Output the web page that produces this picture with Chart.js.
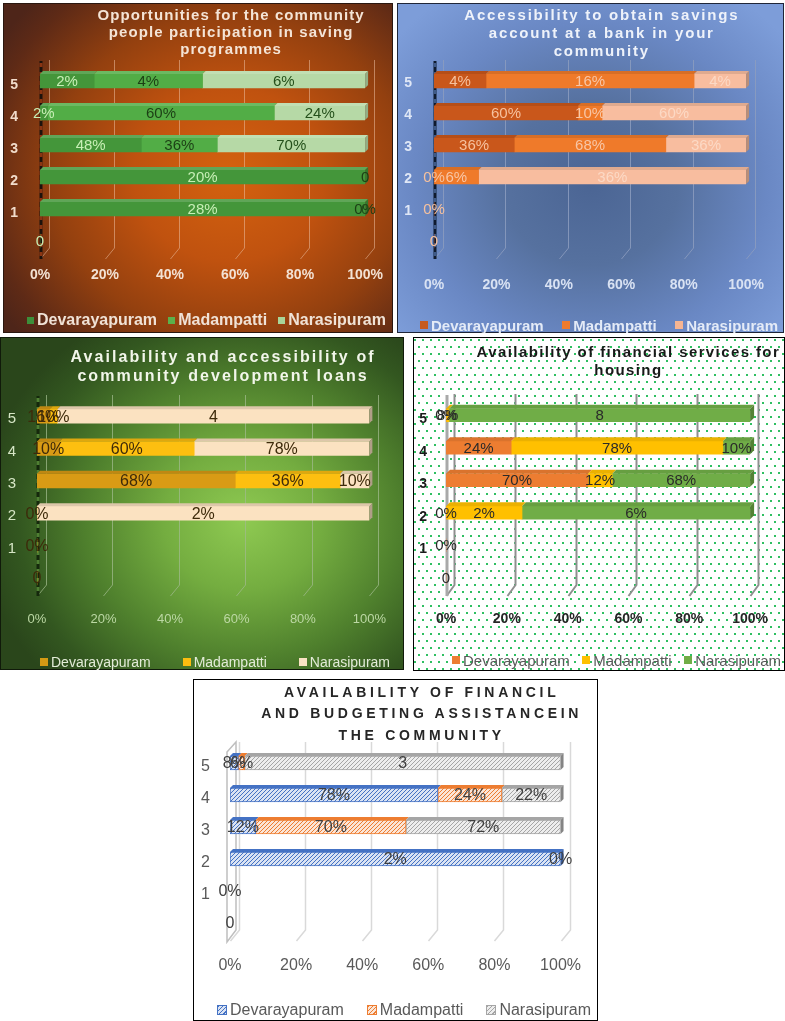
<!DOCTYPE html>
<html>
<head>
<meta charset="utf-8">
<script src="https://cdn.jsdelivr.net/npm/chart.js@4.4.1/dist/chart.umd.min.js"></script>
<style>
  html, body { margin: 0; padding: 0; background: #ffffff; }
  #page { position: relative; width: 785px; height: 1021px; overflow: hidden; font-family: "Liberation Sans", Arial, sans-serif; }
  .panel { position: absolute; overflow: hidden; box-sizing: border-box; }
  .panel canvas { position: absolute; left: 0; top: 0; }
  .tline { position: absolute; text-align: center; white-space: nowrap; font-weight: bold; }
  .legend { position: absolute; display: flex; justify-content: space-between; align-items: center; white-space: nowrap; }
  .legend .item { display: flex; align-items: center; }
  .legend .swatch { display: inline-block; box-sizing: border-box; margin-right: 3px; }
</style>
</head>
<body>
<div id="page"></div>
<script>
// ---- shared axis data ----
const categories = ['', '1', '2', '3', '4', '5'];
const seriesNames = ['Devarayapuram', 'Madampatti', 'Narasipuram'];

// ---- Opportunities for the community people participation in saving programmes ----
const savingTitle = ['Opportunities for the community', 'people participation in saving', 'programmes'];
const savingDev = ['0', '28%', '20%', '48%', '2%', '2%'];
const savingMad = [null, '0%', '0', '36%', '60%', '4%'];
const savingNar = [null, '0', null, '70%', '24%', '6%'];

// ---- Accessibility to obtain savings account ----
const accountTitle = ['Accessibility to obtain savings', 'account at a bank in your', 'community'];
const accountDev = ['0', '0%', '0%', '36%', '60%', '4%'];
const accountMad = [null, null, '6%', '68%', '10%', '16%'];
const accountNar = [null, null, '36%', '36%', '60%', '4%'];

// ---- Community development loans ----
const loansTitle = ['Availability and accessibility of', 'community development loans'];
const loansDev = ['0', '0%', '0%', '68%', '10%', '16%'];
const loansMad = [null, null, null, '36%', '60%', '10%'];
const loansNar = [null, null, '2%', '10%', '78%', '4'];

// ---- Financial services for housing ----
const housingTitle = ['Availability of financial services for', 'housing'];
const housingDev = ['0', '0%', '0%', '70%', '24%', '0%'];
const housingMad = [null, null, '2%', '12%', '78%', '8%'];
const housingNar = [null, null, '6%', '68%', '10%', '8'];

// ---- Financial and budgeting assistance ----
const budgetTitle = ['AVAILABILITY OF FINANCIL', 'AND BUDGETING ASSISTANCEIN', 'THE COMMUNITY'];
const budgetDev = ['0', '0%', '2%', '12%', '78%', '8%'];
const budgetMad = [null, null, '0%', '70%', '24%', '6%'];
const budgetNar = [null, null, null, '72%', '22%', '3'];

// ---- helpers ----
const FONT = '"Liberation Sans", Arial, sans-serif';

function cellValue(cell) {
  if (cell === null) return null;
  const n = parseFloat(cell);
  return cell.endsWith('%') ? n / 100 : n;
}

// 100% stacked: each segment as a share of its row total
function shareOfRow(series) {
  const values = series.map(s => s.map(cellValue));
  const totals = categories.map((_, j) => values.reduce((t, v) => t + (v[j] || 0), 0));
  return values.map(v => v.map((x, j) => x === null ? null : (totals[j] > 0 ? x / totals[j] * 100 : 0)));
}

function shade(hex, f) {
  const n = parseInt(hex.slice(1), 16);
  const c = [n >> 16, (n >> 8) & 255, n & 255];
  const t = f < 0 ? 0 : 255, p = Math.abs(f);
  const m = c.map(v => Math.round(v + (t - v) * p));
  return `rgb(${m[0]},${m[1]},${m[2]})`;
}

function hatch(fg, bg) {
  const tile = document.createElement('canvas');
  tile.width = 4; tile.height = 4;
  const t = tile.getContext('2d');
  t.fillStyle = bg; t.fillRect(0, 0, 4, 4);
  t.strokeStyle = fg; t.lineWidth = 1;
  t.beginPath();
  t.moveTo(0, 4); t.lineTo(4, 0);
  t.moveTo(-1, 1); t.lineTo(1, -1);
  t.moveTo(3, 5); t.lineTo(5, 3);
  t.stroke();
  return t.createPattern(tile, 'repeat');
}

// back-wall gridlines, left wall and the 3-D top / end faces of the bars
function depthPlugin(spec) {
  return {
    id: 'depth',
    beforeDatasetsDraw(chart) {
      const { ctx, chartArea: a, scales: { x } } = chart;
      const dx = spec.depth;
      ctx.save();
      ctx.strokeStyle = spec.grid.color;
      ctx.lineWidth = spec.grid.width;
      x.ticks.forEach(t => {
        const px = Math.round(x.getPixelForValue(t.value)) + 0.5;
        ctx.beginPath();
        ctx.moveTo(px + dx, a.top - 5);
        ctx.lineTo(px + dx, a.bottom - 9);
        ctx.lineTo(px, a.bottom + 2);
        ctx.stroke();
      });
      const p0 = x.getPixelForValue(0);
      const w = spec.wall;
      if (w.type === 'dash') {
        ctx.lineWidth = 3;
        ctx.strokeStyle = w.colors[0];
        ctx.beginPath(); ctx.moveTo(p0 + 1, a.top - 4); ctx.lineTo(p0 + 1, a.bottom + 2); ctx.stroke();
        ctx.strokeStyle = w.colors[1];
        ctx.setLineDash([4, 5]);
        ctx.beginPath(); ctx.moveTo(p0 + 1, a.top - 2); ctx.lineTo(p0 + 1, a.bottom + 2); ctx.stroke();
        ctx.setLineDash([]);
      } else if (w.type === 'solid') {
        ctx.lineWidth = 3;
        ctx.strokeStyle = w.colors[0];
        ctx.beginPath(); ctx.moveTo(p0 + 1, a.top - 4); ctx.lineTo(p0 + 1, a.bottom + 2); ctx.stroke();
      } else {
        ctx.lineWidth = 1.5;
        ctx.strokeStyle = w.colors[0];
        ctx.beginPath();
        ctx.moveTo(p0 - 3, a.top + 5);
        ctx.lineTo(p0 - 3 + dx, a.top - 5);
        ctx.lineTo(p0 - 3 + dx, a.bottom - 9);
        ctx.lineTo(p0 - 3, a.bottom + 3);
        ctx.closePath();
        ctx.stroke();
      }
      ctx.restore();
    },
    afterDatasetsDraw(chart) {
      const { ctx } = chart;
      const d = spec.face;
      const ends = {};
      ctx.save();
      chart.data.datasets.forEach((ds, i) => {
        chart.getDatasetMeta(i).data.forEach((el, j) => {
          if (ds.data[j] === null || !isFinite(el.x)) return;
          const x0 = Math.min(el.base, el.x), x1 = Math.max(el.base, el.x);
          if (x1 - x0 < 0.5) return;
          const top = el.y - el.height / 2;
          ctx.fillStyle = spec.topColors[i];
          ctx.beginPath();
          ctx.moveTo(x0, top); ctx.lineTo(x1, top);
          ctx.lineTo(x1 + d, top - d); ctx.lineTo(x0 + d, top - d);
          ctx.closePath(); ctx.fill();
          if (!ends[j] || x1 >= ends[j].x1) ends[j] = { x1, top, h: el.height, i };
        });
      });
      Object.values(ends).forEach(e => {
        ctx.fillStyle = spec.capColors[e.i];
        ctx.beginPath();
        ctx.moveTo(e.x1, e.top); ctx.lineTo(e.x1 + d, e.top - d);
        ctx.lineTo(e.x1 + d, e.top + e.h - d); ctx.lineTo(e.x1, e.top + e.h);
        ctx.closePath(); ctx.fill();
      });
      ctx.restore();
    }
  };
}

// value labels taken from the same cells that size the segments
function valueLabelPlugin(spec, cells) {
  return {
    id: 'valueLabels',
    afterDatasetsDraw(chart) {
      const { ctx } = chart;
      ctx.save();
      ctx.font = `${spec.labels.size}px ${FONT}`;
      ctx.textAlign = 'center';
      ctx.textBaseline = 'middle';
      cells.forEach((col, i) => {
        ctx.fillStyle = spec.labels.colors[i];
        chart.getDatasetMeta(i).data.forEach((el, j) => {
          if (col[j] === null || !isFinite(el.x)) return;
          ctx.fillText(col[j], (el.x + el.base) / 2, el.y + 1);
        });
      });
      ctx.restore();
    }
  };
}

function buildPanel(spec, titleLines, cells) {
  const page = document.getElementById('page');
  const b = spec.box;
  const panel = document.createElement('div');
  panel.className = 'panel';
  Object.assign(panel.style, {
    left: b.x + 'px', top: b.y + 'px', width: b.w + 'px', height: b.h + 'px',
    background: spec.background, backgroundColor: spec.bgColor || '',
    outline: `1px solid ${spec.border}`, outlineOffset: '-1px'
  });
  if (spec.bgImage) {
    panel.style.backgroundImage = spec.bgImage;
    panel.style.backgroundSize = spec.bgSize;
    panel.style.backgroundPosition = spec.bgPos;
  }
  page.appendChild(panel);

  const canvas = document.createElement('canvas');
  canvas.width = b.w; canvas.height = b.h;
  canvas.style.width = b.w + 'px'; canvas.style.height = b.h + 'px';
  panel.appendChild(canvas);

  // title
  const t = spec.title;
  titleLines.forEach((line, k) => {
    const d = document.createElement('div');
    d.className = 'tline';
    d.textContent = line;
    const lh = Math.round(t.size * 1.2);
    Object.assign(d.style, {
      left: (t.cx - 250 - b.x) + 'px', width: '500px',
      top: (t.y[k] - lh / 2 - b.y) + 'px', lineHeight: lh + 'px',
      fontSize: t.size + 'px', letterSpacing: t.ls + 'px', paddingLeft: t.ls + 'px',
      color: t.color, fontFamily: FONT
    });
    panel.appendChild(d);
  });

  // legend
  const L = spec.legend;
  const lg = document.createElement('div');
  lg.className = 'legend';
  Object.assign(lg.style, {
    left: (L.left - b.x) + 'px', width: (L.right - L.left) + 'px',
    top: (L.y - 11 - b.y) + 'px', height: '22px',
    fontSize: L.size + 'px', fontWeight: L.bold ? 'bold' : 'normal', color: L.color, fontFamily: FONT
  });
  seriesNames.forEach((name, i) => {
    const item = document.createElement('div');
    item.className = 'item';
    const sw = document.createElement('span');
    sw.className = 'swatch';
    Object.assign(sw.style, { width: L.box + 'px', height: L.box + 'px', background: L.swatches[i] });
    if (L.swatchBorders) sw.style.border = `1px solid ${L.swatchBorders[i]}`;
    const tx = document.createElement('span');
    tx.textContent = name;
    item.appendChild(sw); item.appendChild(tx);
    lg.appendChild(item);
  });
  panel.appendChild(lg);

  // chart area in panel coordinates
  const a = spec.area;
  const left = a.left - b.x, right = a.right - b.x, top = a.top - b.y, bottom = a.bottom - b.y;
  const xAxisH = spec.xTicks.padding + spec.xTicks.size + 10;
  const shares = shareOfRow(cells);
  const fills = spec.fills();

  new Chart(canvas, {
    type: 'bar',
    data: {
      labels: categories,
      datasets: shares.map((data, i) => ({
        label: seriesNames[i],
        data,
        backgroundColor: fills[i],
        borderColor: spec.borderColors ? spec.borderColors[i] : 'rgba(0,0,0,0)',
        borderWidth: spec.borderColors ? 1 : 0,
        borderSkipped: false,
        barThickness: spec.barThickness
      }))
    },
    options: {
      indexAxis: 'y',
      responsive: false,
      animation: false,
      devicePixelRatio: 1,
      layout: { padding: { left: 2, top, right: b.w - right, bottom: b.h - bottom - xAxisH } },
      scales: {
        x: {
          stacked: true, min: 0, max: 100,
          grid: { display: false, drawTicks: false }, border: { display: false },
          ticks: {
            stepSize: 20, maxRotation: 0, autoSkip: false,
            callback: v => v + '%',
            font: { family: FONT, size: spec.xTicks.size, weight: spec.xTicks.bold ? 'bold' : 'normal' },
            color: spec.xTicks.color, padding: spec.xTicks.padding
          },
          afterFit: s => { s.height = xAxisH; }
        },
        y: {
          stacked: true, reverse: true,
          grid: { display: false, drawTicks: false }, border: { display: false },
          ticks: {
            font: { family: FONT, size: spec.yTicks.size, weight: spec.yTicks.bold ? 'bold' : 'normal' },
            color: spec.yTicks.color, padding: spec.yTicks.padding, labelOffset: spec.yTicks.offset
          },
          afterFit: s => { s.width = left - 2; }
        }
      },
      plugins: { legend: { display: false }, title: { display: false }, tooltip: { enabled: false } }
    },
    plugins: [depthPlugin(spec), valueLabelPlugin(spec, cells)]
  });
}

// ---- panel styles and placement ----
const savingColors = ['#44963a', '#52ad46', '#b6d9a6'];
buildPanel({
  box: { x: 3, y: 3, w: 390, h: 330 }, border: '#2a1710',
  background: 'radial-gradient(ellipse 70% 75% at 58% 52%, #d4620f 0%, #c0520f 35%, #93400f 65%, #5e2a16 90%, #4e2519 100%)',
  area: { left: 40, right: 367, top: 65, bottom: 257 },
  barThickness: 14, depth: 9, face: 3,
  fills: () => savingColors,
  topColors: savingColors.map(c => shade(c, 0.15)), capColors: savingColors.map(c => shade(c, -0.2)),
  grid: { color: 'rgba(235,190,160,0.55)', width: 1 },
  wall: { type: 'dash', colors: ['#1d120c', '#8a3512'] },
  labels: { size: 15, colors: ['#c8efb6', '#1c3f15', '#24501b'] },
  xTicks: { size: 14, bold: true, color: '#f3e2d4', padding: 10 },
  yTicks: { size: 14, bold: true, color: '#f1dccb', padding: 22, offset: 4 },
  title: { cx: 230, y: [15, 32, 49], size: 15, ls: 1.1, color: '#f4e4d6' },
  legend: { left: 27, right: 386, y: 320, size: 16, bold: true, color: '#f0e2d6', box: 7, swatches: ['#3d8f3a', '#5bb04b', '#a8d598'] }
}, savingTitle, [savingDev, savingMad, savingNar]);

const accountColors = ['#c9571b', '#ef7a2a', '#f8bd9f'];
buildPanel({
  box: { x: 397, y: 3, w: 387, h: 330 }, border: '#1f2638',
  background: 'radial-gradient(ellipse 65% 70% at 50% 55%, #4b6594 0%, #56719f 35%, #6a88c4 70%, #7d9dd9 100%)',
  area: { left: 434, right: 757, top: 65, bottom: 257 },
  barThickness: 14, depth: 9, face: 3,
  fills: () => accountColors,
  topColors: accountColors.map(c => shade(c, -0.1)), capColors: accountColors.map(c => shade(c, -0.25)),
  grid: { color: 'rgba(140,156,190,0.85)', width: 1 },
  wall: { type: 'dash', colors: ['#0f1a2e', '#3f5a88'] },
  labels: { size: 15, colors: ['#f6c19e', '#f8c6a6', '#fcd9c5'] },
  xTicks: { size: 14, bold: true, color: '#d9e2f3', padding: 20 },
  yTicks: { size: 14, bold: true, color: '#dfe7f6', padding: 22, offset: 2 },
  title: { cx: 600, y: [15, 33, 51], size: 15, ls: 1.8, color: '#eef2fa' },
  legend: { left: 420, right: 778, y: 325, size: 15, bold: true, color: '#e4ebf7', box: 8, swatches: ['#c55a1e', '#ee7b2c', '#f6b592'] }
}, accountTitle, [accountDev, accountMad, accountNar]);

const loansColors = ['#d99b15', '#fdbf10', '#fbe2c1'];
buildPanel({
  box: { x: 0, y: 337, w: 404, h: 333 }, border: '#101a0a',
  background: 'radial-gradient(ellipse 65% 70% at 60% 55%, #8fca52 0%, #74ad40 30%, #4f802d 60%, #335720 85%, #2a461b 100%)',
  area: { left: 37, right: 376, top: 400, bottom: 594 },
  barThickness: 14, depth: 9, face: 3,
  fills: () => loansColors,
  topColors: loansColors.map(c => shade(c, -0.12)), capColors: loansColors.map(c => shade(c, -0.3)),
  grid: { color: 'rgba(160,185,140,0.75)', width: 1 },
  wall: { type: 'dash', colors: ['#15280c', '#4f7f33'] },
  labels: { size: 16, colors: ['#3d2a0a', '#3d2a0a', '#3d2a0a'] },
  xTicks: { size: 13, bold: false, color: '#bcd8a4', padding: 18 },
  yTicks: { size: 15, bold: false, color: '#d6e6c6', padding: 21, offset: 3 },
  title: { cx: 221, y: [356, 375], size: 16, ls: 2.1, color: '#f2f6ea' },
  legend: { left: 40, right: 390, y: 662, size: 14, bold: false, color: '#e3ecd8', box: 8, swatches: ['#d39a14', '#fbbd0f', '#fae3c4'] }
}, loansTitle, [loansDev, loansMad, loansNar]);

const housingColors = ['#ed7d31', '#ffc000', '#70ad47'];
buildPanel({
  box: { x: 413, y: 337, w: 372, h: 334 }, border: '#000000',
  background: '', bgColor: '#ffffff',
  bgImage: 'radial-gradient(circle, #2fbf62 0, #2fbf62 0.8px, rgba(255,255,255,0) 1.4px), radial-gradient(circle, #2fbf62 0, #2fbf62 0.8px, rgba(255,255,255,0) 1.4px)',
  bgSize: '8px 14px', bgPos: '2px 3px, 6px 10px',
  area: { left: 446, right: 765, top: 399, bottom: 594 },
  barThickness: 13, depth: 8, face: 4,
  fills: () => housingColors,
  topColors: housingColors.map(c => shade(c, -0.08)), capColors: housingColors.map(c => shade(c, -0.25)),
  grid: { color: '#8f8f8f', width: 2 },
  wall: { type: 'solid', colors: ['#a9a9a9'] },
  labels: { size: 15, colors: ['#2a2a2a', '#2a2a2a', '#2a2a2a'] },
  xTicks: { size: 14, bold: true, color: '#262626', padding: 17 },
  yTicks: { size: 14, bold: true, color: '#1a1a1a', padding: 19, offset: 4 },
  title: { cx: 627, y: [352, 370], size: 15, ls: 1.4, color: '#1a1a1a' },
  legend: { left: 452, right: 781, y: 660, size: 15, bold: false, color: '#595959', box: 8, swatches: housingColors }
}, housingTitle, [housingDev, housingMad, housingNar]);

const budgetLines = ['#4472c4', '#ed7d31', '#a5a5a5'];
const budgetBacks = ['#dae3f3', '#fbe5d6', '#ededed'];
buildPanel({
  box: { x: 193, y: 679, w: 405, h: 342 }, border: '#000000',
  background: '#ffffff',
  area: { left: 230, right: 561, top: 747, bottom: 939 },
  barThickness: 14, depth: 9, face: 3,
  fills: () => budgetLines.map((c, i) => hatch(c, budgetBacks[i])),
  borderColors: budgetLines,
  topColors: budgetLines, capColors: budgetLines.map(c => shade(c, -0.2)),
  grid: { color: '#d9d9d9', width: 1.5 },
  wall: { type: 'outline', colors: ['#bfbfbf'] },
  labels: { size: 16, colors: ['#404040', '#404040', '#404040'] },
  xTicks: { size: 16, bold: false, color: '#595959', padding: 17 },
  yTicks: { size: 16, bold: false, color: '#595959', padding: 20, offset: 4 },
  title: { cx: 418, y: [692, 713, 735], size: 14, ls: 3.7, color: '#262626' },
  legend: {
    left: 217, right: 591, y: 1010, size: 16, bold: false, color: '#595959', box: 10,
    swatches: budgetLines.map((c, i) => `repeating-linear-gradient(135deg, ${c} 0 1px, ${budgetBacks[i]} 1px 3px)`),
    swatchBorders: budgetLines
  }
}, budgetTitle, [budgetDev, budgetMad, budgetNar]);
</script>
</body>
</html>
